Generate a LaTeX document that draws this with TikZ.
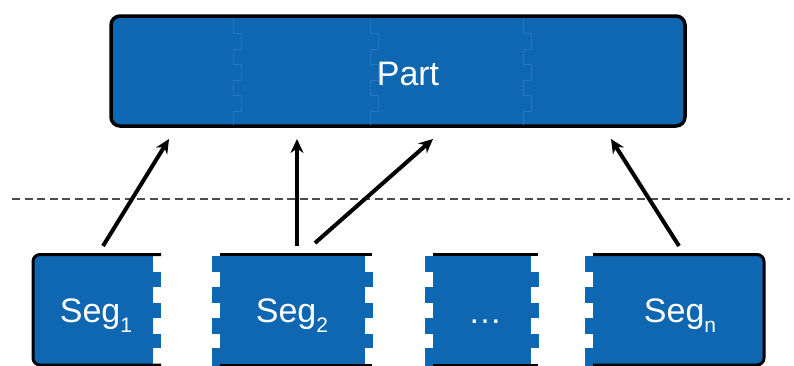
\documentclass[tikz,border=0pt]{standalone}
\usepackage{fontspec}
\setmainfont{Liberation Sans}
\usetikzlibrary{arrows.meta}
\definecolor{segblue}{RGB}{15,103,177}
\definecolor{seamblue}{RGB}{36,117,188}
\newcommand{\segsub}[1]{\raisebox{-10pt}{\fontsize{21}{24}\selectfont #1}}
\begin{document}
\begin{tikzpicture}[x=1pt, y=-1pt, >={Stealth[length=14pt,width=13pt]},
    partbox/.style={draw=black, line width=3.5pt, fill=segblue, rounded corners=9pt,
      minimum width=574pt, minimum height=110pt, inner sep=0pt},
    label/.style={text=white, font=\fontsize{34}{40}\selectfont, anchor=base, inner sep=0pt},
    edge/.style={line width=3pt, line cap=butt},
    seam/.style={seamblue, line width=0.6pt},
    link/.style={->, line width=4pt}]
    \useasboundingbox (0,0) rectangle (794,365);

    % the part
    \node[partbox] (part) at (398,71) {};
    \foreach \sx in {233,370,523}
      \draw[seam] (\sx,18) -- ++(0,15) -- ++(8,0) -- ++(0,16) -- ++(-8,0) -- ++(0,15)
        -- ++(8,0) -- ++(0,16) -- ++(-8,0) -- ++(0,15) -- ++(8,0) -- ++(0,16)
        -- ++(-8,0) -- (\sx,125);
    \node[label] (partlabel) at (408,85) {Part};

    % the cut
    \coordinate (cutL) at (12,199);
    \coordinate (cutR) at (790,199);
    \draw[gray!60!black, line width=1.2pt, dash pattern=on 8pt off 4.5pt] (cutL) -- (cutR);

    % segments: bodies
    \fill[segblue, rounded corners=7pt] (33,254.5) rectangle (153,366);
    \fill[segblue] (100,254.5) rectangle (153,366);
    \fill[segblue] (220,254.5) rectangle (365,366);
    \fill[segblue] (433,254.5) rectangle (531,366);
    \fill[segblue, rounded corners=7pt] (593,254.5) rectangle (764,366);
    \fill[segblue] (593,254.5) rectangle (700,366);

    % tabs on the left and right sides
    \foreach \bx in {220,433,593}
      \foreach \ty/\tb in {256/272,287/303,318/334,348/366}
        \fill[segblue] (\bx-8,\ty) rectangle (\bx,\tb);
    \foreach \bx in {153,365,531}
      \foreach \ty/\tb in {272/287,303/318,334/348}
        \fill[segblue] (\bx,\ty) rectangle (\bx+7.5,\tb);

    % outlines
    \draw[edge, rounded corners=7pt] (161,254.5) -- (33,254.5) -- (33,365) -- (161,365);
    \draw[edge] (220,254.5) -- (372,254.5) (220,365) -- (372,365);
    \draw[edge] (433,254.5) -- (538,254.5) (433,365) -- (538,365);
    \draw[edge, rounded corners=7pt] (593,254.5) -- (764,254.5) -- (764,365) -- (593,365);

    \node[label] (seg1) at (96,322) {Seg\segsub{1}};
    \node[label] (seg2) at (292,322) {Seg\segsub{2}};
    \node[label] (segdots) at (485,323) {\dots};
    \node[label] (segn) at (680,322) {Seg\segsub{n}};

    % links from segments to part
    \coordinate (s1) at (103,246);
    \coordinate (s2a) at (297,246);
    \coordinate (s2b) at (315,243);
    \coordinate (sn) at (679,246);
    \coordinate (p1) at (169,139);
    \coordinate (p2) at (297,139);
    \coordinate (p3) at (433,139);
    \coordinate (p4) at (611,139);

    \draw[link] (s1) -- (p1);
    \draw[link] (s2a) -- (p2);
    \draw[link] (s2b) -- (p3);
    \draw[link] (sn) -- (p4);
\end{tikzpicture}
\end{document}
